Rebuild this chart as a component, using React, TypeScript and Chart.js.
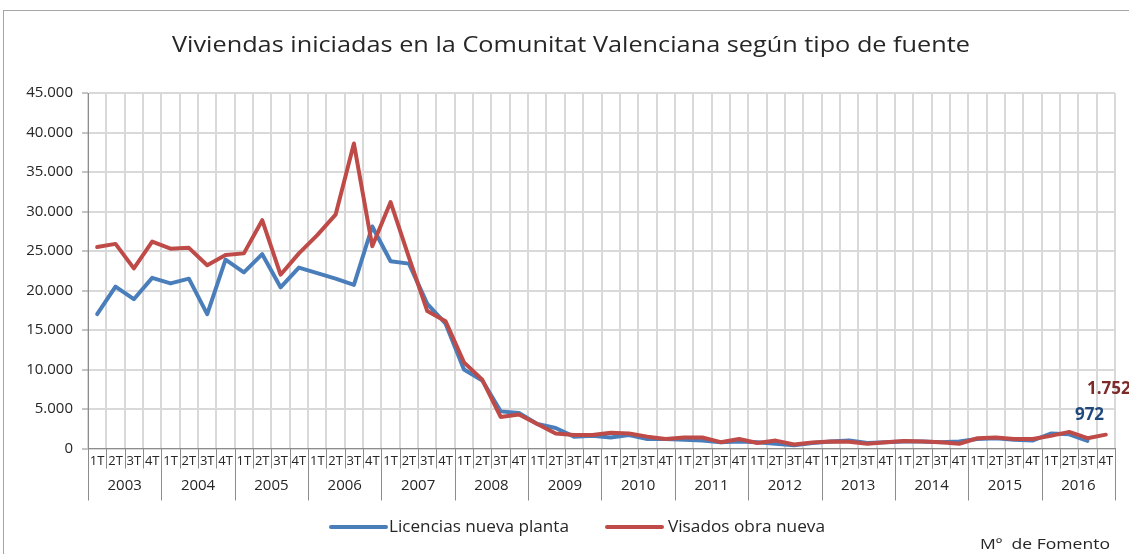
import React, { useEffect, useRef } from "react";
import { Chart, registerables } from "chart.js";

Chart.register(...registerables);

const years = ["2003","2004","2005","2006","2007","2008","2009","2010","2011","2012","2013","2014","2015","2016"];
const quarterNames = ["1T","2T","3T","4T"];
const labels = years.flatMap(() => quarterNames);

const licencias = [
  17000, 20500, 18900, 21600,
  20900, 21500, 17000, 23900,
  22300, 24600, 20400, 22900,
  22200, 21500, 20700, 28100,
  23700, 23400, 18300, 15800,
  10000, 8600, 4700, 4500,
  3100, 2600, 1500, 1600,
  1400, 1700, 1200, 1200,
  1100, 1000, 800, 900,
  800, 600, 400, 700,
  900, 1000, 700, 800,
  900, 900, 800, 900,
  1200, 1300, 1100, 1000,
  1900, 1800, 972, null,
];

const visados = [
  25500, 25900, 22800, 26200,
  25300, 25400, 23200, 24500,
  24700, 28900, 22000, 24700,
  27000, 29600, 38600, 25600,
  31200, 24200, 17400, 16100,
  10900, 8700, 4000, 4300,
  3100, 1900, 1700, 1700,
  2000, 1900, 1500, 1200,
  1400, 1400, 800, 1200,
  700, 1000, 500, 750,
  900, 850, 600, 800,
  950, 900, 800, 600,
  1300, 1400, 1200, 1200,
  1600, 2100, 1300, 1752,
];

const seriesNames = ["Licencias nueva planta", "Visados obra nueva"];
const titleText = "Viviendas iniciadas en la Comunitat Valenciana según tipo de fuente";
const sourceText = "Mº  de Fomento";
const FONT = "'Open Sans', sans-serif";

const fmt = (v: number) => String(Math.round(v)).replace(/\B(?=(\d{3})+(?!\d))/g, ".");

// draw text starting at left x, stretched horizontally to a target width
function fitText(ctx: any, text: string, left: number, y: number, width: number) {
  const w = ctx.measureText(text).width;
  const sx = width / w;
  ctx.save();
  ctx.textAlign = "left";
  ctx.translate(left, y);
  ctx.scale(sx, 1);
  ctx.fillText(text, 0, 0);
  ctx.restore();
}

const customPlugin = {
  id: "customDecor",
  afterDraw(chart: any) {
    const { ctx, chartArea, scales } = chart;
    const x = scales.x;
    const y = scales.y;
    const n = labels.length;
    const step = x.getPixelForValue(1) - x.getPixelForValue(0);
    const bottom = chartArea.bottom;
    ctx.save();
    // separators under axis
    ctx.strokeStyle = "#8c8c8c";
    ctx.lineWidth = 1;
    for (let i = 0; i <= n; i++) {
      const px = Math.round(x.getPixelForValue(0) - step / 2 + i * step) + 0.5;
      const len = i % 4 === 0 ? 52 : 20;
      ctx.beginPath();
      ctx.moveTo(px, bottom);
      ctx.lineTo(px, bottom + len);
      ctx.stroke();
    }
    // years
    ctx.fillStyle = "#262626";
    ctx.font = `15px ${FONT}`;
    ctx.textAlign = "center";
    ctx.textBaseline = "middle";
    years.forEach((yr, k) => {
      const cx = (x.getPixelForValue(4 * k) + x.getPixelForValue(4 * k + 3)) / 2;
      ctx.fillText(yr, cx, bottom + 37);
    });
    // title
    ctx.font = `21px ${FONT}`;
    ctx.fillStyle = "#262626";
    fitText(ctx, titleText, 172, 46, 798);
    // data labels
    ctx.textAlign = "center";
    ctx.font = `bold 17px ${FONT}`;
    const li = 54;
    ctx.fillStyle = "#1F497D";
    ctx.fillText(fmt(licencias[li] as number), x.getPixelForValue(li) + 2, y.getPixelForValue(licencias[li] as number) - 26);
    const vi = 55;
    ctx.fillStyle = "#7B2C2A";
    ctx.fillText(fmt(visados[vi]), x.getPixelForValue(vi) + 3, y.getPixelForValue(visados[vi]) - 46);
    // legend
    const legendY = 527;
    const items = [
      { x0: 331, x1: 386, tx: 389, tw: 180, color: chart.data.datasets[0].borderColor, text: chart.data.datasets[0].label },
      { x0: 607, x1: 662, tx: 668, tw: 157, color: chart.data.datasets[1].borderColor, text: chart.data.datasets[1].label },
    ];
    ctx.font = `16px ${FONT}`;
    items.forEach((it) => {
      ctx.strokeStyle = it.color;
      ctx.lineWidth = 4;
      ctx.lineCap = "round";
      ctx.beginPath();
      ctx.moveTo(it.x0, legendY);
      ctx.lineTo(it.x1, legendY);
      ctx.stroke();
      ctx.fillStyle = "#262626";
      fitText(ctx, it.text, it.tx, legendY, it.tw);
    });
    // source
    ctx.font = `15px ${FONT}`;
    fitText(ctx, sourceText, 980, 545, 130);
    ctx.restore();
  },
};

export default function App() {
  const ref = useRef<HTMLCanvasElement | null>(null);
  useEffect(() => {
    if (!ref.current) return;
    const chart = new Chart(ref.current, {
      type: "line",
      data: {
        labels,
        datasets: [
          {
            label: seriesNames[0],
            data: licencias,
            borderColor: "#4A7EBB",
            backgroundColor: "#4A7EBB",
            borderWidth: 4,
            pointRadius: 0,
            tension: 0,
            borderJoinStyle: "round",
            borderCapStyle: "round",
            spanGaps: false,
            order: 1,
          },
          {
            label: seriesNames[1],
            data: visados,
            borderColor: "#BE4B48",
            backgroundColor: "#BE4B48",
            borderWidth: 4,
            pointRadius: 0,
            tension: 0,
            borderJoinStyle: "round",
            borderCapStyle: "round",
            order: 0,
          },
        ],
      },
      options: {
        responsive: false,
        animation: false,
        layout: { padding: { top: 93, left: 0, right: 14, bottom: 0 } },
        plugins: {
          legend: { display: false },
          title: { display: false },
          tooltip: { enabled: false },
        },
        scales: {
          x: {
            type: "category",
            offset: true,
            grid: { offset: true, color: "#d9d9d9", lineWidth: 2, drawTicks: false },
            border: { color: "#8c8c8c", width: 1 },
            ticks: {
              autoSkip: false,
              maxRotation: 0,
              minRotation: 0,
              padding: 5,
              color: "#262626",
              font: { family: FONT, size: 13 },
            },
            afterFit(scale: any) {
              scale.height = 105.5;
            },
          },
          y: {
            min: 0,
            max: 45000,
            grid: { color: "#d9d9d9", lineWidth: 2, tickLength: 6, tickColor: "#8c8c8c", tickWidth: 1 },
            border: { color: "#8c8c8c", width: 1 },
            ticks: {
              stepSize: 5000,
              padding: 9,
              color: "#262626",
              font: { family: FONT, size: 15 },
              callback: (v: any) => fmt(Number(v)),
            },
            afterFit(scale: any) {
              scale.width = 88;
            },
          },
        },
      },
      plugins: [customPlugin],
    });
    return () => chart.destroy();
  }, []);
  return (
    <div style={{ position: "fixed", left: 0, top: 0, width: 1129, height: 554, overflow: "hidden", background: "#fff" }}>
      <div style={{ position: "absolute", left: 3, top: 10, width: 1160, height: 600, border: "1px solid #a6a6a6" }} />
      <canvas ref={ref} width={1129} height={554} style={{ position: "absolute", left: 0, top: 0, width: 1129, height: 554 }} />
    </div>
  );
}
